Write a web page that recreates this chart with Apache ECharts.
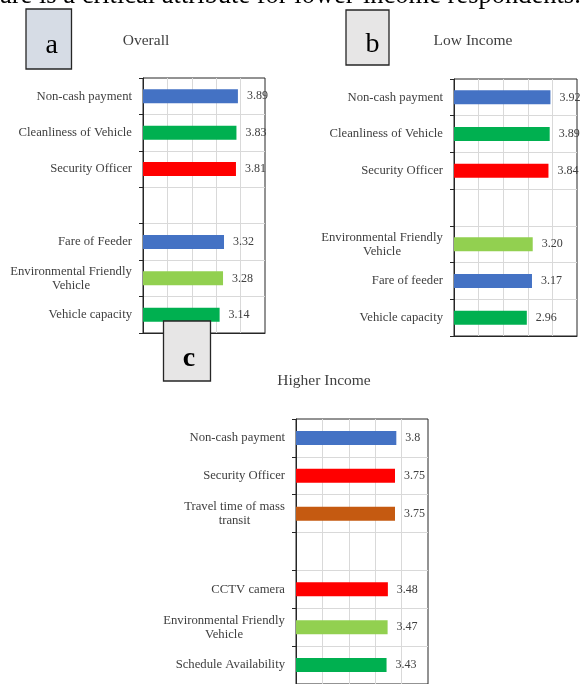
<!DOCTYPE html>
<html>
<head>
<meta charset="utf-8">
<script src="https://cdn.jsdelivr.net/npm/echarts@6/dist/echarts.min.js"></script>
<style>
  html, body { margin: 0; padding: 0; background: #ffffff; }
  #chart { width: 585px; height: 684px; }
</style>
</head>
<body>
<div id="chart"></div>
<script>
// Attribute importance scores, top to bottom; '' marks the gap between groups.
const overallCats = ['Non-cash payment', 'Cleanliness of Vehicle', 'Security Officer', '',
  'Fare of Feeder', 'Environmental Friendly\nVehicle', 'Vehicle capacity'];
const overallVals = [3.89, 3.83, 3.81, null, 3.32, 3.28, 3.14];

const lowCats = ['Non-cash payment', 'Cleanliness of Vehicle', 'Security Officer', '',
  'Environmental Friendly\nVehicle', 'Fare of feeder', 'Vehicle capacity'];
const lowVals = [3.92, 3.89, 3.84, null, 3.20, 3.17, 2.96];

const highCats = ['Non-cash payment', 'Security Officer', 'Travel time of mass\ntransit', '',
  'CCTV camera', 'Environmental Friendly\nVehicle', 'Schedule Availability'];
const highVals = [3.8, 3.75, 3.75, null, 3.48, 3.47, 3.43];

const panelTitles = ['Overall', 'Low Income', 'Higher Income'];
const panelLetters = ['a', 'b', 'c'];
const captionText = 'are is a critical attribute for lower-income respondents.';

// Bar colour by attribute
const attrColor = {
  'non-cash payment': '#4472C4',
  'fare of feeder': '#4472C4',
  'cleanliness of vehicle': '#00B050',
  'vehicle capacity': '#00B050',
  'schedule availability': '#00B050',
  'security officer': '#FF0000',
  'cctv camera': '#FF0000',
  'environmental friendly\nvehicle': '#92D050',
  'travel time of mass\ntransit': '#C55A11'
};

const SERIF = '"Liberation Serif", "Times New Roman", serif';
const TEXT = '#404040';
const CAT_SIZE = 12.7;

const measureCtx = document.createElement('canvas').getContext('2d');
function textWidth(s, size) {
  measureCtx.font = size + 'px "Liberation Serif"';
  return measureCtx.measureText(s).width;
}

// Multi-line category names: lines centred on each other, block right-aligned
function categoryAxis(cats, gridIndex) {
  const rich = {};
  const styleOf = {};
  cats.filter(c => c.indexOf('\n') >= 0).forEach((c, k) => {
    const lines = c.split('\n');
    const w = Math.ceil(Math.max.apply(null, lines.map(l => textWidth(l, CAT_SIZE))));
    rich['m' + k] = { width: w, align: 'center', fontSize: CAT_SIZE, fontFamily: SERIF,
      color: TEXT, lineHeight: 14 };
    styleOf[c] = 'm' + k;
  });
  return {
    type: 'category',
    gridIndex: gridIndex,
    data: cats,
    inverse: true,
    boundaryGap: true,
    axisLine: { show: true, lineStyle: { color: '#262626', width: 1 } },
    axisTick: { show: true, inside: false, length: 4, lineStyle: { color: '#262626' } },
    axisLabel: {
      margin: 11,
      fontSize: CAT_SIZE,
      fontFamily: SERIF,
      color: TEXT,
      lineHeight: 14,
      rich: rich,
      formatter: function (v) {
        if (styleOf[v]) return v.split('\n').map(l => '{' + styleOf[v] + '|' + l + '}').join('\n');
        return v;
      }
    },
    splitLine: { show: true, showMinLine: false, showMaxLine: false,
      lineStyle: { color: '#d9d9d9', width: 1 } }
  };
}

function valueAxis(gridIndex) {
  return {
    type: 'value',
    gridIndex: gridIndex,
    min: 0, max: 5, interval: 1,
    axisLine: { show: true, lineStyle: { color: '#262626' } },
    axisTick: { show: false },
    axisLabel: { show: false },
    splitLine: { show: true, showMinLine: false, showMaxLine: false,
      lineStyle: { color: '#d9d9d9', width: 1 } }
  };
}

function barSeries(cats, vals, idx, fmt) {
  return {
    type: 'bar',
    xAxisIndex: idx,
    yAxisIndex: idx,
    barWidth: 14,
    data: vals.map((v, j) => v == null ? '-' : {
      value: v,
      itemStyle: { color: attrColor[cats[j].toLowerCase()] }
    }),
    label: {
      show: true,
      position: 'right',
      distance: 9,
      fontSize: 12,
      fontFamily: SERIF,
      color: TEXT,
      formatter: p => fmt(p.value)
    }
  };
}

const gridBase = { show: true, borderColor: '#262626', borderWidth: 1, backgroundColor: 'transparent' };

// Panel letter in a framed box; dx/dy nudge the glyph inside the frame
function letterBox(x, y, w, h, fill, letter, bold, z, dx, dy) {
  return [
    { type: 'rect', z: z, shape: { x: x, y: y, width: w, height: h },
      style: { fill: fill, stroke: '#262626', lineWidth: 1.3 } },
    { type: 'text', z: z + 1, x: x + w / 2 + dx, y: y + h / 2 + dy,
      style: { text: letter, fill: '#000', font: (bold ? 'bold ' : '') + '28px ' + SERIF,
        textAlign: 'center', textVerticalAlign: 'middle' } }
  ];
}

function titleText(x, y, s) {
  return { type: 'text', z: 5, x: x, y: y,
    style: { text: s, fill: TEXT, font: '15.5px ' + SERIF, textAlign: 'center', textVerticalAlign: 'middle' } };
}

const chart = echarts.init(document.getElementById('chart'), null, { renderer: 'canvas' });

chart.setOption({
  animation: false,
  grid: [
    Object.assign({ left: 143, top: 78, width: 122, height: 255 }, gridBase),
    Object.assign({ left: 454, top: 79, width: 123, height: 257 }, gridBase),
    Object.assign({ left: 296, top: 419, width: 132, height: 268 }, gridBase)
  ],
  xAxis: [valueAxis(0), valueAxis(1), valueAxis(2)],
  yAxis: [categoryAxis(overallCats, 0), categoryAxis(lowCats, 1), categoryAxis(highCats, 2)],
  series: [
    barSeries(overallCats, overallVals, 0, v => v.toFixed(2)),
    barSeries(lowCats, lowVals, 1, v => v.toFixed(2)),
    barSeries(highCats, highVals, 2, v => String(v))
  ],
  graphic: [
    { type: 'text', z: 5, x: 0, y: 9.2,
      style: { text: captionText, fill: '#000', font: '26.5px ' + SERIF,
        textAlign: 'left', textVerticalAlign: 'bottom' } },
    titleText(146, 41, panelTitles[0]),
    titleText(473, 41, panelTitles[1]),
    titleText(324, 381, panelTitles[2])
  ].concat(
    letterBox(26, 9, 45.5, 60, '#d6dce5', panelLetters[0], false, 20, 3, 7),
    letterBox(346, 10, 43, 55, '#e7e6e6', panelLetters[1], false, 20, 5, 7),
    letterBox(163.5, 321, 47, 60, '#e7e6e6', panelLetters[2], true, 20, 2, 8)
  )
});
</script>
</body>
</html>
